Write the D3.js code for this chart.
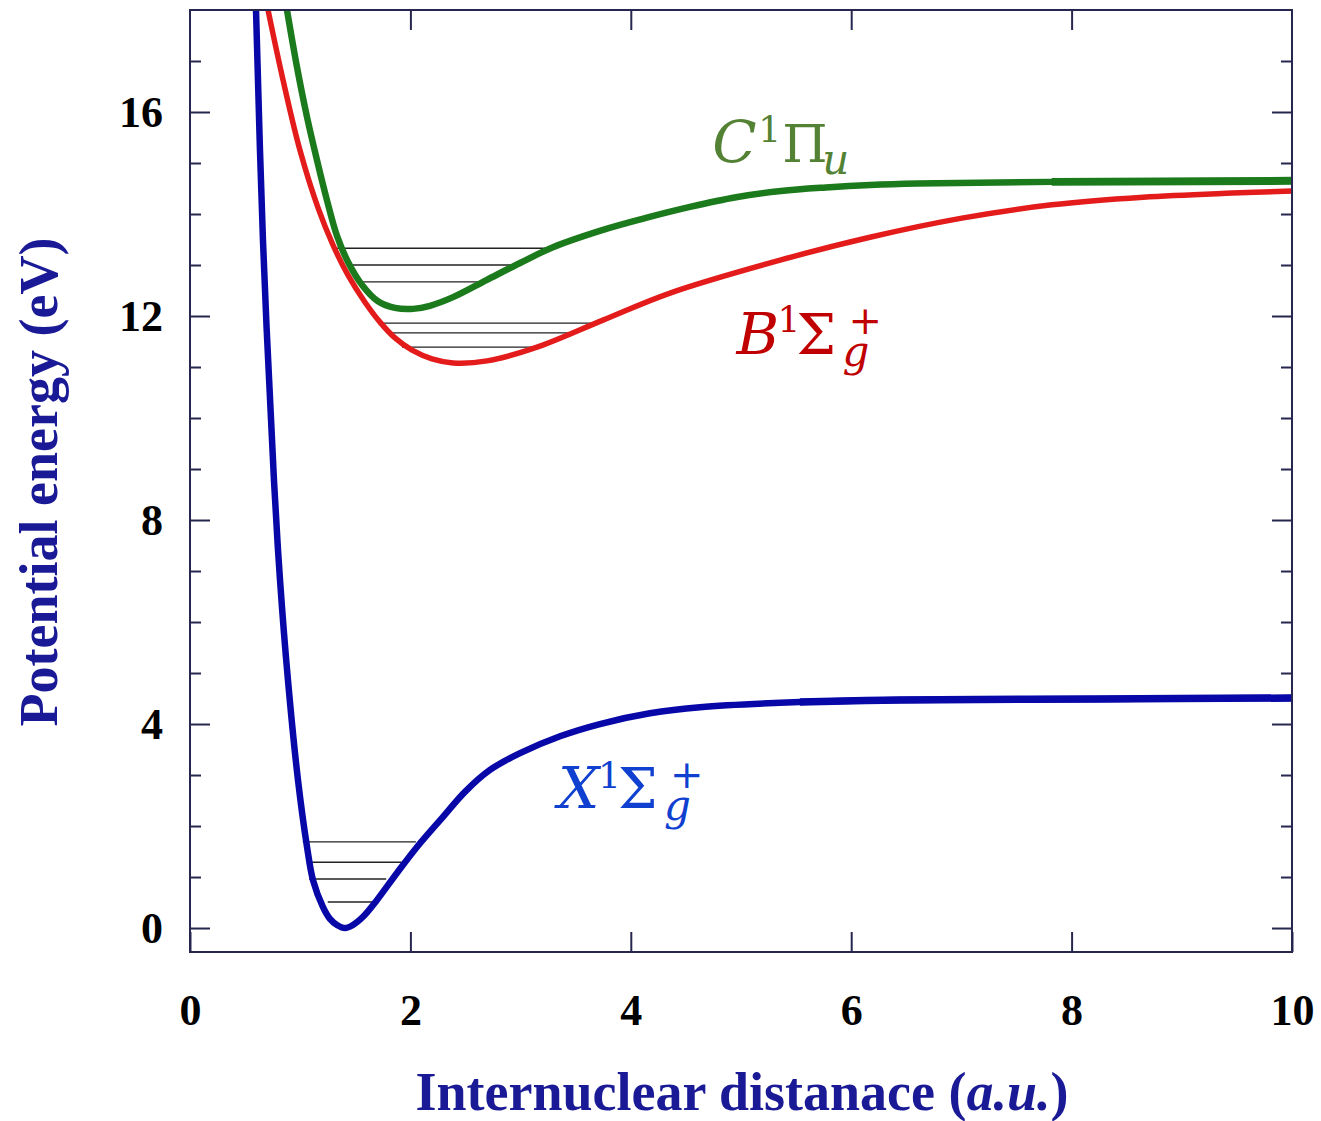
<!DOCTYPE html>
<html>
<head>
<meta charset="utf-8">
<script src="https://cdn.jsdelivr.net/npm/d3@7"></script>
<style>
  html, body { margin: 0; padding: 0; background: #ffffff; }
  svg { display: block; }
</style>
</head>
<body>
<svg id="chart" width="1321" height="1121"></svg>
<script>
// Potential energy curves of H2: internuclear distance R (a.u.) vs energy (eV)

// Ground state X 1Σg+
const stateX_R = [0.599, 0.662, 0.762, 0.817, 0.889, 0.980, 1.062, 1.116, 1.207, 1.270, 1.334, 1.407, 1.479, 1.57, 1.697, 1.878, 2.06, 2.296, 2.495, 2.722, 2.995, 3.358, 3.72, 4.174, 4.628, 5.535, 6.44, 8.26, 10.0];
const stateX_E = [18.0, 13.49, 8.78, 6.82, 4.86, 2.90, 1.59, 0.94, 0.41, 0.18, 0.06, 0.0, 0.06, 0.22, 0.55, 1.08, 1.59, 2.18, 2.67, 3.10, 3.43, 3.76, 4.00, 4.21, 4.33, 4.43, 4.47, 4.49, 4.51];

// Excited state B 1Σg+
const stateB_R = [0.708, 0.844, 0.998, 1.162, 1.298, 1.434, 1.588, 1.724, 1.860, 2.015, 2.196, 2.387, 2.695, 3.149, 3.748, 4.356, 5.363, 6.18, 7.005, 7.82, 8.65, 9.46, 10.0];
const stateB_E = [18.0, 16.63, 15.25, 14.12, 13.39, 12.80, 12.27, 11.88, 11.57, 11.33, 11.16, 11.08, 11.12, 11.39, 11.92, 12.45, 13.10, 13.55, 13.92, 14.18, 14.33, 14.41, 14.45];

// Excited state C 1Πu
const stateC_R = [0.880, 0.971, 1.062, 1.152, 1.243, 1.334, 1.434, 1.561, 1.706, 1.860, 2.024, 2.178, 2.387, 2.695, 2.995, 3.294, 3.748, 4.129, 4.537, 4.955, 5.363, 5.77, 6.17, 6.60, 7.82, 10.0];
const stateC_E = [18.0, 16.88, 15.90, 15.06, 14.27, 13.57, 13.06, 12.61, 12.29, 12.16, 12.14, 12.20, 12.37, 12.71, 13.04, 13.35, 13.69, 13.92, 14.14, 14.33, 14.45, 14.52, 14.57, 14.60, 14.63, 14.65];

// Vibrational levels: energy, left turning point, right turning point
const levelsX = [[1.69, 1.024, 2.05], [1.29, 1.08, 1.92], [0.96, 1.08, 1.78], [0.51, 1.25, 1.69]];
const levelsB = [[11.86, 1.715, 3.71], [11.67, 1.824, 3.475], [11.39, 1.924, 3.167]];
const levelsC = [[13.33, 1.307, 3.31], [13.0, 1.434, 2.94], [12.67, 1.524, 2.65]];

// Axis ticks
const xTicks = [0, 2, 4, 6, 8, 10];
const yMajorTicks = [0, 4, 8, 12, 16];
const yMinorTicks = [1, 2, 3, 5, 6, 7, 9, 10, 11, 13, 14, 15, 17];

const svg = d3.select("#chart");
const plotLeft = 190, plotRight = 1292, plotTop = 10, plotBottom = 952;
const x = d3.scaleLinear().domain([0, 10]).range([plotLeft, plotRight]);
const y = d3.scaleLinear().domain([-0.47, 18]).range([plotBottom, plotTop]);

const axisColor = "#26264f";
const titleColor = "#1a1a96";

svg.append("defs").append("clipPath").attr("id", "plot-clip")
  .append("rect").attr("x", plotLeft).attr("y", plotTop)
  .attr("width", plotRight - plotLeft).attr("height", plotBottom - plotTop);

const plot = svg.append("g").attr("clip-path", "url(#plot-clip)");

// vibrational level lines
function drawLevels(levels) {
  plot.append("g").selectAll("line").data(levels).join("line")
    .attr("x1", d => x(d[1])).attr("x2", d => x(d[2]))
    .attr("y1", d => y(d[0])).attr("y2", d => y(d[0]))
    .attr("stroke", "#222").attr("stroke-width", 1.4);
}
drawLevels(levelsX);
drawLevels(levelsB);
drawLevels(levelsC);

// potential curves; the dissociation tail is drawn a little heavier
const line = d3.line().x(d => x(d[0])).y(d => y(d[1])).curve(d3.curveCatmullRom.alpha(0.5));
function drawCurve(R, E, color, width, tailFrom, tailWidth) {
  const pts = R.map((r, i) => [r, E[i]]);
  plot.append("path").datum(pts)
    .attr("d", line).attr("fill", "none")
    .attr("stroke", color).attr("stroke-width", width)
    .attr("stroke-linejoin", "round").attr("stroke-linecap", "round");
  if (tailFrom !== undefined) {
    plot.append("path").datum(pts.filter(p => p[0] >= tailFrom))
      .attr("d", line).attr("fill", "none")
      .attr("stroke", color).attr("stroke-width", tailWidth)
      .attr("stroke-linecap", "butt");
  }
}
drawCurve(stateB_R, stateB_E, "#e41b1b", 5.5);
drawCurve(stateC_R, stateC_E, "#1b7a1b", 6.5, 7.82, 8);
drawCurve(stateX_R, stateX_E, "#0808a8", 6.5, 5.535, 7.5);

// axes
function styleAxis(g) {
  g.select(".domain").remove();
  g.selectAll(".tick line").attr("stroke", axisColor).attr("stroke-width", 2);
  g.selectAll("text").attr("fill", "#000")
    .attr("font-family", "'Liberation Serif', 'Times New Roman', serif")
    .attr("font-weight", "bold").attr("font-size", 44);
}

svg.append("g").attr("transform", `translate(${plotLeft},0)`)
  .call(d3.axisLeft(y).tickValues(yMajorTicks).tickSize(-20).tickPadding(27).tickFormat(d3.format("d")))
  .call(styleAxis);
svg.append("g").attr("transform", `translate(${plotLeft},0)`)
  .call(d3.axisLeft(y).tickValues(yMinorTicks).tickSize(-11).tickFormat(""))
  .call(styleAxis);
svg.append("g").attr("transform", `translate(${plotRight},0)`)
  .call(d3.axisRight(y).tickValues(yMajorTicks).tickSize(-20).tickFormat(""))
  .call(styleAxis);
svg.append("g").attr("transform", `translate(${plotRight},0)`)
  .call(d3.axisRight(y).tickValues(yMinorTicks).tickSize(-11).tickFormat(""))
  .call(styleAxis);
svg.append("g").attr("transform", `translate(0,${plotBottom})`)
  .call(d3.axisBottom(x).tickValues(xTicks).tickSize(-20).tickPadding(42).tickFormat(d3.format("d")))
  .call(styleAxis);
svg.append("g").attr("transform", `translate(0,${plotTop})`)
  .call(d3.axisTop(x).tickValues(xTicks.slice(1, -1)).tickSize(-20).tickFormat(""))
  .call(styleAxis);

// frame
svg.append("rect").attr("x", plotLeft).attr("y", plotTop)
  .attr("width", plotRight - plotLeft).attr("height", plotBottom - plotTop)
  .attr("fill", "none").attr("stroke", axisColor).attr("stroke-width", 2);

// axis titles
svg.append("text")
  .attr("x", 742).attr("y", 1110).attr("text-anchor", "middle")
  .attr("font-family", "'Liberation Serif', 'Times New Roman', serif")
  .attr("font-weight", "bold").attr("font-size", 54).attr("fill", titleColor)
  .call(t => {
    t.append("tspan").text("Internuclear distanace (");
    t.append("tspan").attr("font-style", "italic").text("a.u.");
    t.append("tspan").text(")");
  });

svg.append("text")
  .attr("transform", "translate(57,482) rotate(-90)").attr("text-anchor", "middle")
  .attr("font-family", "'Liberation Serif', 'Times New Roman', serif")
  .attr("font-weight", "bold").attr("font-size", 54).attr("fill", titleColor)
  .text("Potential energy (eV)");

// state labels: one text element per label, anchored in data coordinates
const labelFont = "'DejaVu Serif', serif";
function stateLabel(R, E, color, pieces) {
  const t = svg.append("text")
    .attr("transform", `translate(${x(R)},${y(E)})`)
    .attr("fill", color).attr("font-family", labelFont);
  pieces.forEach(p => {
    t.append("tspan").attr("x", p.dx).attr("y", p.dy)
      .attr("font-size", p.size).attr("font-style", p.italic ? "italic" : "normal")
      .text(p.t);
  });
}

stateLabel(4.74, 15.02, "#548235", [
  { t: "C", dx: 0, dy: 0, size: 58, italic: true },
  { t: "1", dx: 46, dy: -20, size: 36 },
  { t: "Π", dx: 70, dy: 0, size: 52 },
  { t: "u", dx: 110, dy: 12, size: 42, italic: true }
]);

stateLabel(4.96, 11.25, "#c00000", [
  { t: "B", dx: 0, dy: 0, size: 58, italic: true },
  { t: "1", dx: 41, dy: -22, size: 36 },
  { t: "Σ", dx: 60, dy: 0, size: 56 },
  { t: "g", dx: 106, dy: 12, size: 42, italic: true },
  { t: "+", dx: 112, dy: -20, size: 40 }
]);

stateLabel(3.34, 2.35, "#1040d0", [
  { t: "X", dx: 0, dy: 0, size: 58, italic: true },
  { t: "1", dx: 40, dy: -20, size: 36 },
  { t: "Σ", dx: 60, dy: 0, size: 56 },
  { t: "g", dx: 106, dy: 12, size: 42, italic: true },
  { t: "+", dx: 112, dy: -20, size: 40 }
]);
</script>
</body>
</html>
